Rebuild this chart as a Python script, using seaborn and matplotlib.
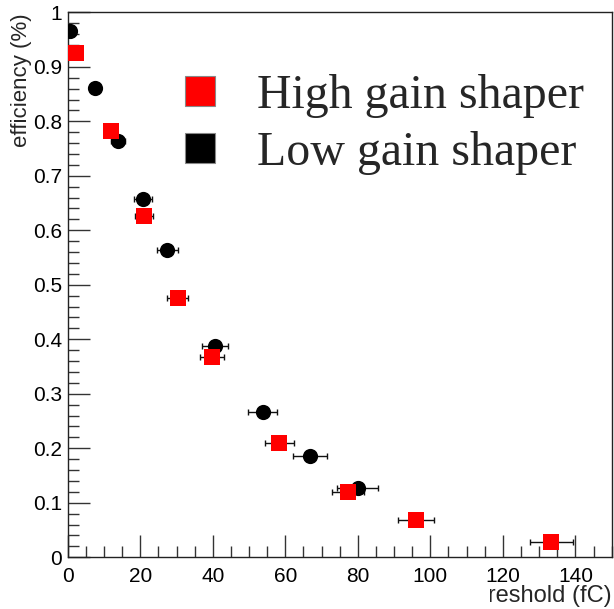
import numpy as np
import pandas as pd
import matplotlib
matplotlib.use("Agg")
import matplotlib.pyplot as plt
from matplotlib.ticker import MultipleLocator, FuncFormatter
from matplotlib.lines import Line2D
from matplotlib.patches import Rectangle
import seaborn as sns

# ---- data ----
low_threshold = [0.6, 7.5, 13.9, 20.8, 27.4, 40.5, 53.8, 66.9, 80.0]
low_eff = [0.966, 0.862, 0.763, 0.657, 0.564, 0.388, 0.267, 0.186, 0.127]
low_xerr = [0.5, 1.2, 2.0, 2.4, 2.9, 3.6, 4.0, 4.7, 5.7]

high_threshold = [2.3, 11.9, 21.0, 30.3, 39.7, 58.4, 77.3, 96.0, 133.4]
high_eff = [0.925, 0.783, 0.626, 0.476, 0.367, 0.210, 0.120, 0.069, 0.028]
high_xerr = [0.5, 1.5, 2.5, 2.9, 3.3, 4.0, 4.4, 4.9, 5.9]

series_labels = ["High gain shaper", "Low gain shaper"]
x_label = "threshold (fC)"
y_label = "efficiency (%)"
stamp = "Preliminary"

df = pd.concat([
    pd.DataFrame({"threshold": low_threshold, "eff": low_eff, "xerr": low_xerr,
                  "shaper": series_labels[1]}),
    pd.DataFrame({"threshold": high_threshold, "eff": high_eff, "xerr": high_xerr,
                  "shaper": series_labels[0]}),
])

sns.set_style("ticks")
plt.rcParams["font.family"] = ["Liberation Sans", "DejaVu Sans"]

fig = plt.figure(figsize=(6.14, 6.09), dpi=100)
ax = fig.add_axes([0.1103, 0.0849, 0.9962 - 0.1103, 0.9798 - 0.0849])

colors = {series_labels[0]: "#ff0000", series_labels[1]: "#000000"}
markers = {series_labels[0]: "s", series_labels[1]: "o"}

for name in [series_labels[1], series_labels[0]]:
    d = df[df["shaper"] == name]
    ax.errorbar(d["threshold"], d["eff"], xerr=d["xerr"], fmt="none",
                ecolor="#111111", elinewidth=1.0, capsize=2.3, capthick=1.0, zorder=2)
for name in [series_labels[1], series_labels[0]]:
    d = df[df["shaper"] == name]
    sns.scatterplot(data=d, x="threshold", y="eff", ax=ax, color=colors[name],
                    marker=markers[name], s=120, linewidth=0, zorder=3, legend=False)

ax.set_xlim(0, 150)
ax.set_ylim(0, 1)
ax.xaxis.set_major_locator(MultipleLocator(20))
ax.xaxis.set_minor_locator(MultipleLocator(5))
ax.yaxis.set_major_locator(MultipleLocator(0.1))
ax.yaxis.set_minor_locator(MultipleLocator(0.02))
ax.yaxis.set_major_formatter(FuncFormatter(lambda v, p: "%g" % round(v, 2)))
ax.xaxis.set_major_formatter(FuncFormatter(lambda v, p: "%g" % v))
ax.tick_params(which="both", direction="in", top=False, right=False,
               color="#333333", width=1.0, labelsize=15, labelcolor="black")
ax.tick_params(which="major", length=16)
ax.tick_params(which="minor", length=8)
ax.tick_params(axis="x", pad=7)
ax.tick_params(axis="y", pad=4)
for sp in ax.spines.values():
    sp.set_visible(True)
    sp.set_color("#222222")
    sp.set_linewidth(1.0)
ax.set_xlabel("")
ax.set_ylabel("")

fig.text(0.9962, 1 - 602 / 609, x_label, ha="right", va="baseline", fontsize=17)
fig.text(22 / 614, 1 - 13 / 609, y_label, rotation=90, ha="center", va="top", fontsize=16)

handles = [Line2D([], [], linestyle="none", marker="s", markersize=21.6,
                  markerfacecolor=colors[n], markeredgecolor="#888888",
                  markeredgewidth=0.8) for n in series_labels]
ax.legend(handles, series_labels, loc="upper left",
          bbox_to_anchor=((176 - 67.7) / 544, (557.3 - 74) / 545),
          frameon=False, borderpad=0, borderaxespad=0, handlelength=1.0,
          handletextpad=0.7, labelspacing=0.27,
          prop={"family": "Liberation Serif", "size": 34.5})

# white box covering the start of the axis title, with red stamp text
fig.patches.append(Rectangle((150 / 614, 0), (490 - 150) / 614, 27 / 609,
                             transform=fig.transFigure, facecolor="white",
                             edgecolor="none", zorder=5))
fig.text(200 / 614, -36 / 609, stamp, color="#ff0000", fontsize=34,
         fontweight="bold", ha="left", va="baseline", zorder=6)

fig.savefig("out.png", dpi=100)
